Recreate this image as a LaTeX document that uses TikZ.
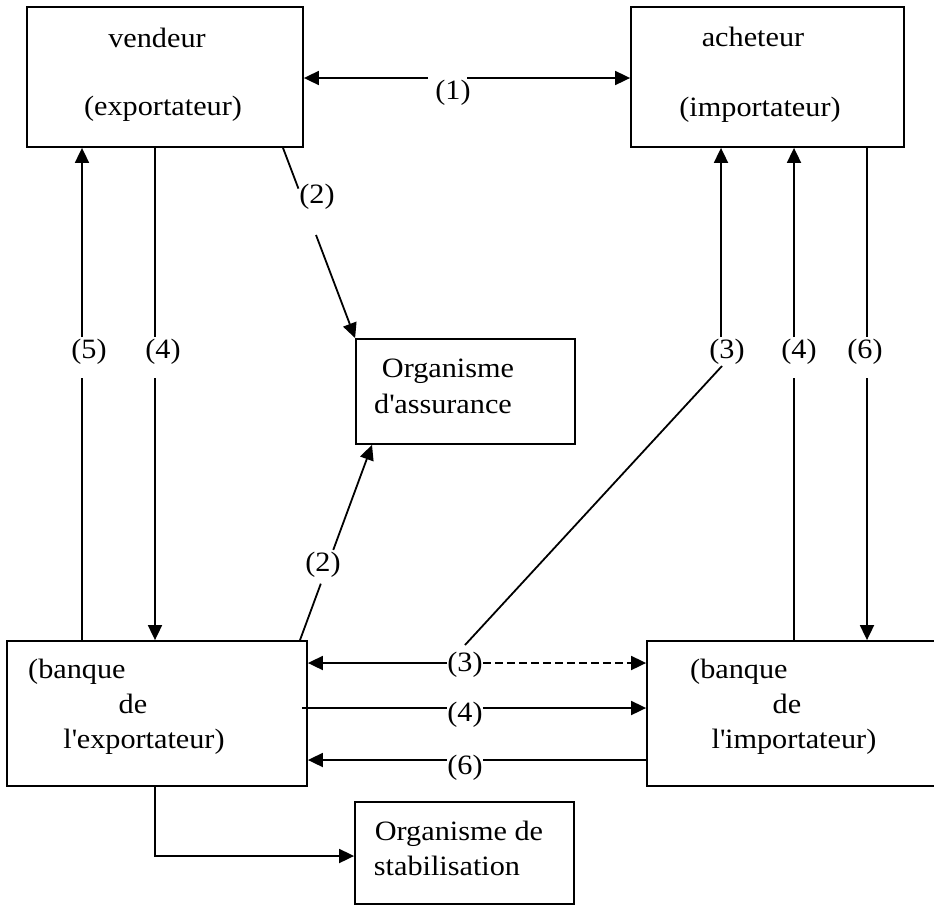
\documentclass[tikz,border=0pt]{standalone}
\usepackage{fontspec}
\setmainfont[FakeStretch=1.08]{Liberation Serif}
\usetikzlibrary{arrows.meta,calc}
\begin{document}
\begin{tikzpicture}[x=1pt,y=-1pt,
  font=\fontsize{28}{34}\selectfont,
  box/.style={draw, line width=1.8pt, rectangle, inner sep=0pt},
  txt/.style={inner sep=0pt, anchor=base},
  lbl/.style={inner sep=0pt, anchor=center},
  link/.style={line width=1.8pt},
  arr/.style={-{Triangle[length=15pt,width=14pt]}},
  dsh/.style={dash pattern=on 8pt off 4pt}]
\useasboundingbox (0,0) rectangle (934,905);
\clip (0,0) rectangle (934,905);
% boxes
\node[box, minimum width=276pt, minimum height=140pt] (v) at (165,77) {};
\node[box, minimum width=273pt, minimum height=140pt] (a) at (767.5,77) {};
\node[box, minimum width=219pt, minimum height=105pt] (ass) at (465.5,391.5) {};
\node[box, minimum width=300pt, minimum height=145pt] (be) at (157,713.5) {};
\node[box, minimum width=300pt, minimum height=145pt] (bi) at (797,713.5) {};
\node[box, minimum width=219pt, minimum height=102pt] (st) at (464.5,853) {};
% texts
\node[txt] (tv1) at (157,47) {vendeur};
\node[txt] (tv2) at (163,115) {(exportateur)};
\node[txt] (ta1) at (753,46) {acheteur};
\node[txt] (ta2) at (760,116) {(importateur)};
\node[txt] (tas1) at (448,377) {Organisme};
\node[txt] (tas2) at (443,413) {d\textquotesingle assurance};
\node[txt, anchor=base west] (tbe1) at (28,678) {(banque};
\node[txt] (tbe2) at (133,713) {de};
\node[txt] (tbe3) at (144,748) {l\textquotesingle exportateur)};
\node[txt, anchor=base west] (tbi1) at (690,678) {(banque};
\node[txt] (tbi2) at (787,713) {de};
\node[txt] (tbi3) at (794,748) {l\textquotesingle importateur)};
\node[txt] (tst1) at (459,840) {Organisme de};
\node[txt] (tst2) at (447,875) {stabilisation};
% labels
\node[lbl] (l1) at (453,93) {(1)};
\node[lbl] (l2a) at (317,197) {(2)};
\node[lbl] (l2b) at (323,565) {(2)};
\node[lbl] (l5) at (89,352) {(5)};
\node[lbl] (l4a) at (163,352) {(4)};
\node[lbl] (l3a) at (727,352) {(3)};
\node[lbl] (l4b) at (799,352) {(4)};
\node[lbl] (l6b) at (865,352) {(6)};
\node[lbl] (l3) at (465,665) {(3)};
\node[lbl] (l4) at (465,715) {(4)};
\node[lbl] (l6) at (465,768) {(6)};
% helper coordinates
\coordinate (x5) at (82,0);
\coordinate (x4l) at (155,0);
\coordinate (x3r) at (721,0);
\coordinate (x4r) at (794,0);
\coordinate (x6r) at (867,0);
\coordinate (x2) at (283,0);
\coordinate (x2b) at (300,0);
\coordinate (x2c) at (372,0);
\coordinate (gt) at (0,337);
\coordinate (gb) at (0,378);
\coordinate (h1) at (0,78);
\coordinate (h3) at (0,663);
\coordinate (h4) at (0,708);
\coordinate (h6) at (0,760);
\coordinate (g1a) at (428,78);
\coordinate (g1b) at (467,78);
\coordinate (d3a) at (722,366);
\coordinate (d3b) at (465,645);
\coordinate (stin) at ($(st.west)+(0,3)$);
% (1)
\draw[link,arr] (g1a) -- (v.east |- h1);
\draw[link,arr] (g1b) -- (a.west |- h1);
% (2) upper
\coordinate (p2) at (x2 |- v.south);
\draw[link] (p2) -- ($(p2)!0.214!(ass.north west)$);
\draw[link,arr] ($(p2)!0.458!(ass.north west)$) -- (ass.north west);
% (2) lower
\coordinate (q2) at (x2b |- be.north);
\coordinate (r2) at (x2c |- ass.south);
\draw[link] (q2) -- ($(q2)!0.289!(r2)$);
\draw[link,arr] ($(q2)!0.462!(r2)$) -- (r2);
% verticals left
\draw[link,arr] (x5 |- gt) -- (x5 |- v.south);
\draw[link] (x5 |- be.north) -- (x5 |- gb);
\draw[link] (x4l |- v.south) -- (x4l |- gt);
\draw[link,arr] (x4l |- gb) -- (x4l |- be.north);
% verticals right
\draw[link,arr] (x3r |- gt) -- (x3r |- a.south);
\draw[link] (d3a) -- (d3b);
\draw[link,arr] (x4r |- gt) -- (x4r |- a.south);
\draw[link] (x4r |- bi.north) -- (x4r |- gb);
\draw[link] (x6r |- a.south) -- (x6r |- gt);
\draw[link,arr] (x6r |- gb) -- (x6r |- bi.north);
% horizontals between banks
\draw[link,arr] (l3.west |- h3) -- (be.east |- h3);
\draw[link,arr,dsh] (l3.east |- h3) -- (bi.west |- h3);
\draw[link] ($(be.east |- h4)+(-6,0)$) -- (l4.west |- h4);
\draw[link,arr] (l4.east |- h4) -- (bi.west |- h4);
\draw[link,arr] (l6.west |- h6) -- (be.east |- h6);
\draw[link] (bi.west |- h6) -- (l6.east |- h6);
% to stabilisation
\draw[link,arr] (x4l |- be.south) |- (stin);
\end{tikzpicture}
\end{document}
